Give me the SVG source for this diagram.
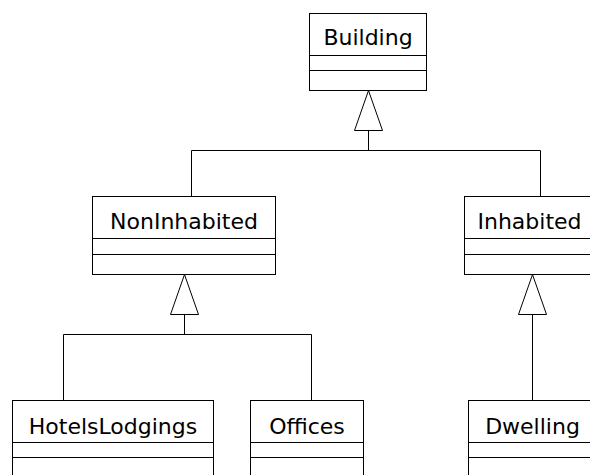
<svg xmlns="http://www.w3.org/2000/svg" width="590" height="475" viewBox="0 0 590 475">
  <style>
    .box { fill: #ffffff; stroke: #000000; stroke-width: 1; }
    .sep { stroke: #000000; stroke-width: 1; fill: none; }
    .name { font-family: "DejaVu Sans", Verdana, sans-serif; font-size: 22px; fill: #000000; text-anchor: middle; }
    .edge { stroke: #000000; stroke-width: 1; fill: none; }
    .gen { fill: #ffffff; stroke: #000000; stroke-width: 1; }
  </style>
  <rect x="0" y="0" width="590" height="475" fill="#ffffff"/>

  <!-- inheritance connectors -->
  <g id="connectors">
    <!-- Building <- NonInhabited / Inhabited -->
    <polyline class="edge" points="191.5,196.5 191.5,150.5 540.5,150.5 540.5,196.5"/>
    <line class="edge" x1="368.5" y1="150.5" x2="368.5" y2="130.5"/>
    <polygon class="gen" points="368.5,90.5 354.5,130.5 382.5,130.5"/>
    <!-- NonInhabited <- HotelsLodgings / Offices -->
    <polyline class="edge" points="63.5,400.5 63.5,334.5 311.5,334.5 311.5,400.5"/>
    <line class="edge" x1="184.5" y1="334.5" x2="184.5" y2="314.5"/>
    <polygon class="gen" points="184.5,274.5 170.5,314.5 198.5,314.5"/>
    <!-- Inhabited <- Dwelling -->
    <line class="edge" x1="532.5" y1="400.5" x2="532.5" y2="314.5"/>
    <polygon class="gen" points="532.5,274.5 518.5,314.5 546.5,314.5"/>
  </g>

  <g id="Building">
    <rect class="box" x="309.5" y="13.5" width="117" height="77"/>
    <line class="sep" x1="309.5" y1="55.5" x2="426.5" y2="55.5"/>
    <line class="sep" x1="309.5" y1="70.5" x2="426.5" y2="70.5"/>
    <text class="name" x="368" y="45">Building</text>
  </g>

  <g id="NonInhabited">
    <rect class="box" x="92.5" y="196.5" width="183" height="78"/>
    <line class="sep" x1="92.5" y1="238.5" x2="275.5" y2="238.5"/>
    <line class="sep" x1="92.5" y1="254.5" x2="275.5" y2="254.5"/>
    <text class="name" x="184" y="229">NonInhabited</text>
  </g>

  <g id="Inhabited">
    <rect class="box" x="464.5" y="196.5" width="136" height="78"/>
    <line class="sep" x1="464.5" y1="238.5" x2="600.5" y2="238.5"/>
    <line class="sep" x1="464.5" y1="254.5" x2="600.5" y2="254.5"/>
    <text class="name" x="529.5" y="229">Inhabited</text>
  </g>

  <g id="HotelsLodgings">
    <rect class="box" x="12.5" y="400.5" width="201" height="78"/>
    <line class="sep" x1="12.5" y1="442.5" x2="213.5" y2="442.5"/>
    <line class="sep" x1="12.5" y1="457.5" x2="213.5" y2="457.5"/>
    <text class="name" x="113" y="433.5">HotelsLodgings</text>
  </g>

  <g id="Offices">
    <rect class="box" x="250.5" y="400.5" width="113" height="78"/>
    <line class="sep" x1="250.5" y1="442.5" x2="363.5" y2="442.5"/>
    <line class="sep" x1="250.5" y1="457.5" x2="363.5" y2="457.5"/>
    <text class="name" x="307" y="433.5">Offices</text>
  </g>

  <g id="Dwelling">
    <rect class="box" x="468.5" y="400.5" width="128" height="78"/>
    <line class="sep" x1="468.5" y1="442.5" x2="596.5" y2="442.5"/>
    <line class="sep" x1="468.5" y1="457.5" x2="596.5" y2="457.5"/>
    <text class="name" x="532.5" y="433.5">Dwelling</text>
  </g>
</svg>
